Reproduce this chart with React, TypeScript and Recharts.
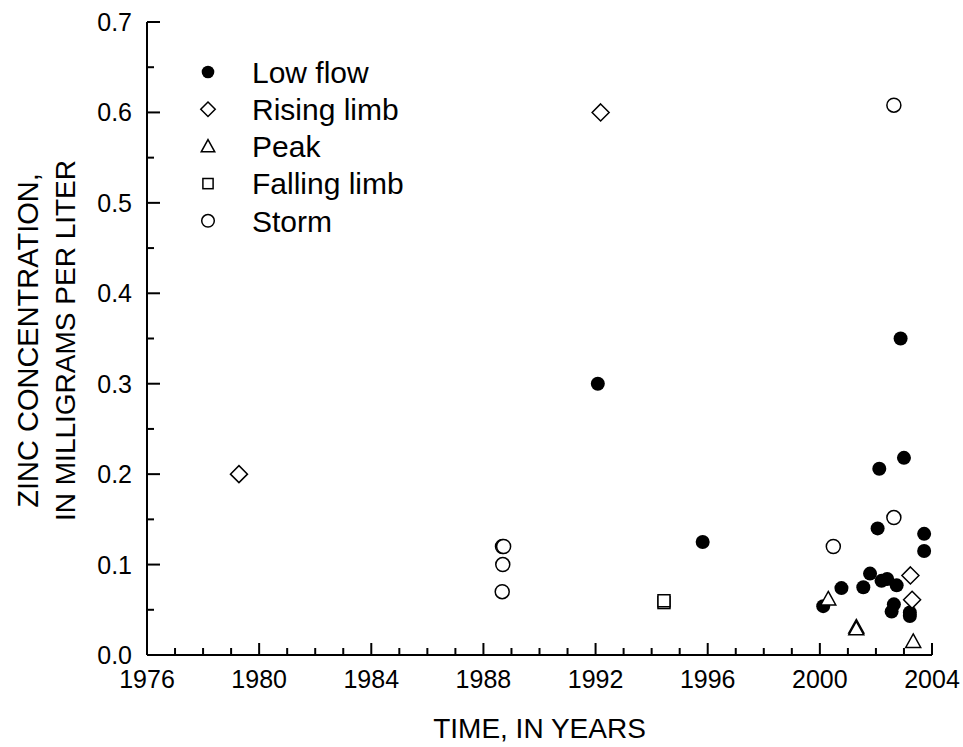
import { Legend, Scatter, ScatterChart, XAxis, YAxis } from 'recharts'

const FONT = "'Liberation Sans', Arial, Helvetica, sans-serif"

// axis ticks (every year / every 0.05, labels on the majors)
const xTicks = [
  1976, 1977, 1978, 1979, 1980, 1981, 1982, 1983, 1984, 1985, 1986, 1987, 1988, 1989, 1990,
  1991, 1992, 1993, 1994, 1995, 1996, 1997, 1998, 1999, 2000, 2001, 2002, 2003, 2004,
]
const yTicks = [0, 0.05, 0.1, 0.15, 0.2, 0.25, 0.3, 0.35, 0.4, 0.45, 0.5, 0.55, 0.6, 0.65, 0.7]

const seriesNames = ['Low flow', 'Rising limb', 'Peak', 'Falling limb', 'Storm']

// values
const lowFlowYear = [
  1992.08, 1995.82, 2000.12, 2000.77, 2001.55, 2001.79, 2002.06, 2002.12, 2002.2, 2002.4,
  2002.56, 2002.64, 2002.74, 2002.88, 2003.0, 2003.21, 2003.21, 2003.72, 2003.72,
]
const lowFlowZinc = [
  0.3, 0.125, 0.054, 0.074, 0.075, 0.09, 0.14, 0.206, 0.082, 0.084,
  0.048, 0.056, 0.077, 0.35, 0.218, 0.047, 0.043, 0.134, 0.115,
]

const risingYear = [1979.28, 1992.18, 2003.23, 2003.29]
const risingZinc = [0.2, 0.6, 0.088, 0.061]

const peakYear = [2000.3, 2001.3, 2001.3, 2003.33]
const peakZinc = [0.062, 0.031, 0.029, 0.015]

const fallingYear = [1994.44, 1994.44]
const fallingZinc = [0.058, 0.06]

const stormYear = [1988.67, 1988.69, 1988.68, 1988.72, 2000.48, 2002.64, 2002.64]
const stormZinc = [0.07, 0.1, 0.12, 0.12, 0.12, 0.152, 0.608]

const toPoints = (xs: number[], ys: number[]) => xs.map((x, i) => ({ year: x, zinc: ys[i] }))

const lowFlow = toPoints(lowFlowYear, lowFlowZinc)
const rising = toPoints(risingYear, risingZinc)
const peak = toPoints(peakYear, peakZinc)
const falling = toPoints(fallingYear, fallingZinc)
const storm = toPoints(stormYear, stormZinc)

type Marker = 'dot' | 'diamond' | 'triangle' | 'square' | 'circle'
const markerOf: Record<string, Marker> = {
  'Low flow': 'dot',
  'Rising limb': 'diamond',
  Peak: 'triangle',
  'Falling limb': 'square',
  Storm: 'circle',
}

function drawMarker(kind: Marker, cx: number, cy: number, s = 1) {
  const sw = 1.5
  switch (kind) {
    case 'dot':
      return <circle cx={cx} cy={cy} r={7 * s} fill="#000" />
    case 'diamond': {
      const h = 8.5 * s
      return (
        <path
          d={`M${cx},${cy - h}L${cx + h},${cy}L${cx},${cy + h}L${cx - h},${cy}Z`}
          fill="#fff"
          stroke="#000"
          strokeWidth={sw}
        />
      )
    }
    case 'triangle': {
      const w = 7.5 * s
      return (
        <path
          d={`M${cx},${cy - 7.5 * s}L${cx + w},${cy + 6 * s}L${cx - w},${cy + 6 * s}Z`}
          fill="#fff"
          stroke="#000"
          strokeWidth={sw}
        />
      )
    }
    case 'square': {
      const h = 6 * s
      return (
        <rect x={cx - h} y={cy - h} width={2 * h} height={2 * h} fill="#fff" stroke="#000" strokeWidth={sw} />
      )
    }
    default:
      return <circle cx={cx} cy={cy} r={7 * s} fill="#fff" stroke="#000" strokeWidth={sw} />
  }
}

const shapeFor = (kind: Marker) => (props: any) => {
  if (props.cx == null || props.cy == null) return <g />
  return drawMarker(kind, props.cx, props.cy)
}

const isMajorX = (v: number) => (v - 1976) % 4 === 0
const isMajorY = (v: number) => Math.round(v * 100) % 10 === 0

function BottomTick({ x, y, payload }: any) {
  const major = isMajorX(payload.value)
  return (
    <g>
      <line x1={x} x2={x} y1={y} y2={y - (major ? 12 : 7)} stroke="#000" strokeWidth={2} />
      {major && (
        <text x={x} y={y + 33} textAnchor="middle" fontSize={25} fontFamily={FONT} fill="#000">
          {payload.value}
        </text>
      )}
    </g>
  )
}

function TopTick({ x, y, payload }: any) {
  const major = isMajorX(payload.value)
  return <line x1={x} x2={x} y1={y} y2={y + (major ? 12 : 7)} stroke="#000" strokeWidth={2} />
}

function LeftTick({ x, y, payload }: any) {
  const major = isMajorY(payload.value)
  return (
    <g>
      <line x1={x} x2={x + (major ? 13 : 7)} y1={y} y2={y} stroke="#000" strokeWidth={2} />
      {major && (
        <text x={x - 15} y={y} dy="0.36em" textAnchor="end" fontSize={25} fontFamily={FONT} fill="#000">
          {payload.value.toFixed(1)}
        </text>
      )}
    </g>
  )
}

function RightTick({ x, y, payload }: any) {
  const major = isMajorY(payload.value)
  return <line x1={x} x2={x - (major ? 13 : 7)} y1={y} y2={y} stroke="#000" strokeWidth={2} />
}

function XTitle({ viewBox }: any) {
  if (!viewBox) return null
  return (
    <text
      x={viewBox.x + viewBox.width / 2}
      y={viewBox.y + 83}
      textAnchor="middle"
      fontSize={28}
      fontFamily={FONT}
      fill="#000"
    >
      TIME, IN YEARS
    </text>
  )
}

function YTitle({ viewBox }: any) {
  if (!viewBox) return null
  const cy = viewBox.y + viewBox.height / 2 + 2
  return (
    <g fontFamily={FONT} fill="#000">
      <text x={38} y={cy} textAnchor="middle" fontSize={29} transform={`rotate(-90, 38, ${cy})`}>
        ZINC CONCENTRATION,
      </text>
      <text x={75} y={cy} textAnchor="middle" fontSize={28} transform={`rotate(-90, 75, ${cy})`}>
        IN MILLIGRAMS PER LITER
      </text>
    </g>
  )
}

function LegendBox() {
  return (
    <svg width={320} height={200}>
      {seriesNames.map((name, i) => {
        const cy = 22 + i * 37.2
        const kind = markerOf[name]
        return (
          <g key={name}>
            {drawMarker(kind, 28, cy, kind === 'diamond' ? 0.85 : kind === 'square' ? 0.85 : 0.9)}
            <text x={72} y={cy} dy="0.36em" fontSize={30} fontFamily={FONT} fill="#000">
              {name}
            </text>
          </g>
        )
      })}
    </svg>
  )
}

const axisLine = { stroke: '#000', strokeWidth: 2 }

export default function App() {
  return (
    <div style={{ position: 'absolute', left: 0, top: 0, width: 963, height: 747, background: '#fff' }}>
      <ScatterChart width={963} height={747} margin={{ top: 22, right: 31, bottom: 0, left: 0 }}>
        <XAxis
          xAxisId="b"
          type="number"
          dataKey="year"
          domain={[1976, 2004]}
          ticks={xTicks}
          interval={0}
          tickSize={0}
          tickMargin={0}
          tick={<BottomTick />}
          tickLine={false}
          axisLine={axisLine}
          height={92}
          allowDataOverflow
          label={<XTitle />}
        />
        <XAxis
          xAxisId="t"
          orientation="top"
          type="number"
          dataKey="year"
          domain={[1976, 2004]}
          ticks={xTicks}
          interval={0}
          tickSize={0}
          tickMargin={0}
          tick={<TopTick />}
          tickLine={false}
          axisLine={axisLine}
          height={0}
          allowDataOverflow
        />
        <YAxis
          yAxisId="l"
          type="number"
          dataKey="zinc"
          domain={[0, 0.7]}
          ticks={yTicks}
          interval={0}
          tickSize={0}
          tickMargin={0}
          tick={<LeftTick />}
          tickLine={false}
          axisLine={axisLine}
          width={147}
          allowDataOverflow
          label={<YTitle />}
        />
        <YAxis
          yAxisId="r"
          orientation="right"
          type="number"
          dataKey="zinc"
          domain={[0, 0.7]}
          ticks={yTicks}
          interval={0}
          tickSize={0}
          tickMargin={0}
          tick={<RightTick />}
          tickLine={false}
          axisLine={axisLine}
          width={0}
          allowDataOverflow
        />
        <Legend
          layout="vertical"
          align="center"
          verticalAlign="middle"
          wrapperStyle={{ left: 180, top: 50, width: 320, height: 200 }}
          content={() => <LegendBox />}
        />
        <Scatter
          xAxisId="t"
          yAxisId="r"
          data={lowFlow}
          shape={() => <g />}
          legendType="none"
          isAnimationActive={false}
        />
        <Scatter xAxisId="b" yAxisId="l" name="Low flow" data={lowFlow} shape={shapeFor('dot')} isAnimationActive={false} />
        <Scatter xAxisId="b" yAxisId="l" name="Rising limb" data={rising} shape={shapeFor('diamond')} isAnimationActive={false} />
        <Scatter xAxisId="b" yAxisId="l" name="Peak" data={peak} shape={shapeFor('triangle')} isAnimationActive={false} />
        <Scatter xAxisId="b" yAxisId="l" name="Falling limb" data={falling} shape={shapeFor('square')} isAnimationActive={false} />
        <Scatter xAxisId="b" yAxisId="l" name="Storm" data={storm} shape={shapeFor('circle')} isAnimationActive={false} />
      </ScatterChart>
    </div>
  )
}
